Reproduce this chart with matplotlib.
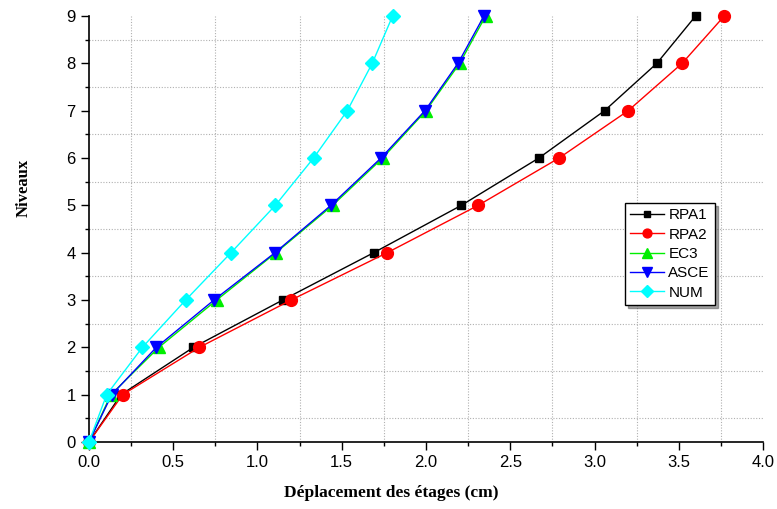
import matplotlib.pyplot as plt
from matplotlib.ticker import MultipleLocator

plt.rcParams["font.family"] = ["Liberation Sans", "DejaVu Sans"]
plt.rcParams["font.size"] = 12

niveaux = [0, 1, 2, 3, 4, 5, 6, 7, 8, 9]
rpa1 = [0.0, 0.19, 0.62, 1.15, 1.69, 2.21, 2.67, 3.06, 3.37, 3.60]
rpa2 = [0.0, 0.20, 0.655, 1.20, 1.77, 2.31, 2.79, 3.20, 3.52, 3.77]
ec3 = [0.0, 0.13, 0.415, 0.758, 1.11, 1.446, 1.743, 2.00, 2.20, 2.354]
asce = [0.0, 0.135, 0.40, 0.742, 1.104, 1.436, 1.733, 1.994, 2.19, 2.344]
num = [0.0, 0.105, 0.317, 0.574, 0.843, 1.106, 1.333, 1.533, 1.681, 1.802]

series = [
    ("RPA1", rpa1, "black", "s", 6),
    ("RPA2", rpa2, "red", "o", 8.5),
    ("EC3", ec3, "#00ee00", "^", 9),
    ("ASCE", asce, "blue", "v", 9),
    ("NUM", num, "cyan", "D", 7.5),
]

fig = plt.figure(figsize=(7.77, 5.09), dpi=100)
ax = fig.add_axes([0.1145, 0.1316, 0.8675, 0.837])

for name, vals, col, mk, ms in series:
    ax.plot(vals, niveaux, color=col, marker=mk, markersize=ms, lw=1,
            label=name, clip_on=False, zorder=3)

ax.set_xlim(0, 4)
ax.set_ylim(0, 9)
ax.xaxis.set_major_locator(MultipleLocator(0.5))
ax.xaxis.set_minor_locator(MultipleLocator(0.25))
ax.yaxis.set_major_locator(MultipleLocator(1))
ax.yaxis.set_minor_locator(MultipleLocator(0.5))
ax.xaxis.set_major_formatter(plt.FormatStrFormatter("%.1f"))
ax.tick_params(which="major", direction="out", length=6, width=1)
ax.tick_params(which="minor", direction="out", length=3, width=1)
ax.grid(which="minor", color="#b0b0b0", linestyle=(0, (1, 1.5)), lw=0.8)

for side in ("top", "right"):
    ax.spines[side].set_visible(False)
for side in ("left", "bottom"):
    ax.spines[side].set_linewidth(1.2)

ax.set_xlabel("Déplacement des étages (cm)", family="Liberation Serif",
              fontweight="bold", fontsize=12.5)
ax.set_ylabel("Niveaux", family="Liberation Serif", fontweight="bold",
              fontsize=12)
ax.xaxis.set_label_coords(0.448, -0.1)
ax.yaxis.set_label_coords(-0.085, 0.596)

leg = ax.legend(loc="upper left", bbox_to_anchor=(0.795, 0.561), fontsize=11,
                fancybox=False, shadow=True, edgecolor="black", framealpha=1,
                handlelength=2.2, labelspacing=0.35, borderpad=0.35,
                handletextpad=0.3, borderaxespad=0, markerscale=0.75)
leg.get_frame().set_linewidth(1)

fig.savefig("out.png", dpi=100)
